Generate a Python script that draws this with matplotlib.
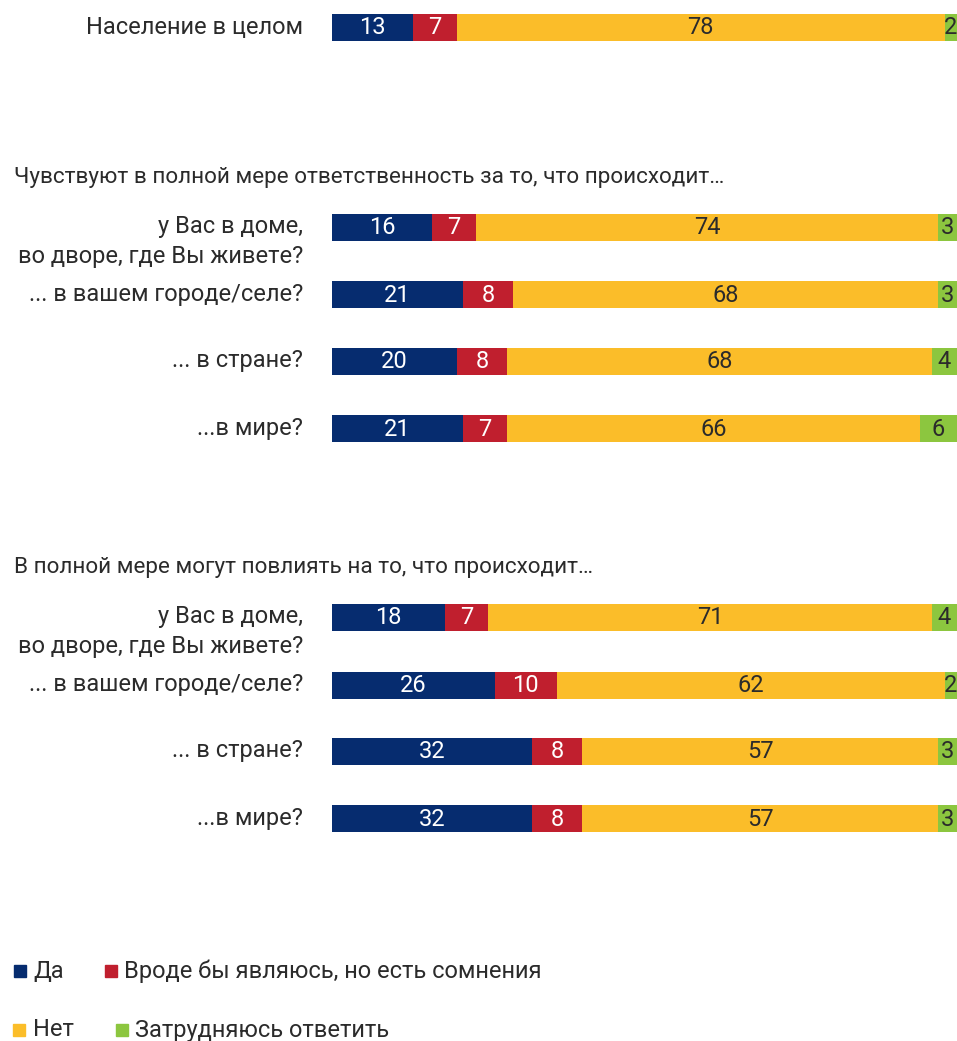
import numpy as np
import matplotlib
matplotlib.use('Agg')
import matplotlib.pyplot as plt

# data
categories = ['Население в целом',
              'у Вас в доме,\nво дворе, где Вы живете?', '... в вашем городе/селе?',
              '... в стране?', '...в мире?',
              'у Вас в доме,\nво дворе, где Вы живете?', '... в вашем городе/селе?',
              '... в стране?', '...в мире?']
da = [13, 16, 21, 20, 21, 18, 26, 32, 32]
vrode = [7, 7, 8, 8, 7, 7, 10, 8, 8]
net = [78, 74, 68, 68, 66, 71, 62, 57, 57]
zatr = [2, 3, 3, 4, 6, 4, 2, 3, 3]
series_names = ['Да', 'Вроде бы являюсь, но есть сомнения', 'Нет', 'Затрудняюсь ответить']
headers = ['Чувствуют в полной мере ответственность за то, что происходит…',
           'В полной мере могут повлиять на то, что происходит…']

colors = ['#062c6f', '#c01f2e', '#fbbd29', '#8cc63f']
text_colors = ['white', 'white', '#2b2b2b', '#2b2b2b']

W, H = 957, 1041
plt.rcParams['font.family'] = ['Roboto', 'DejaVu Sans']
fig = plt.figure(figsize=(W / 100, H / 100), dpi=100)
ax = fig.add_axes([332 / W, 0, 625 / W, 1])
ax.set_xlim(0, 100)
ax.set_ylim(H, 0)
ax.axis('off')

row_y = [27, 227, 294, 361, 428, 617, 685, 751, 818]
bar_h = 27
fs = 17

values = np.array([da, vrode, net, zatr])
for i, y in enumerate(row_y):
    left = 0
    for k in range(4):
        v = values[k][i]
        ax.barh(y, v, left=left, height=bar_h, color=colors[k], linewidth=0)
        ax.text(left + v / 2, y + 1, str(v), ha='center', va='center',
                color=text_colors[k], fontsize=fs)
        left += v
    lines = categories[i].split('\n')
    for j, line in enumerate(lines):
        fig.text(303 / W, 1 - (y + 29 * j) / H, line, ha='right', va='center',
                 fontsize=fs, color='#2b2b2b')

for hy, h in zip([178, 568], headers):
    fig.text(14 / W, 1 - hy / H, h, ha='left', va='center', fontsize=16.2, color='#2b2b2b')

# legend: square x, text x, row centre y (pixels)
leg_pos = [(14, 33, 971), (105, 124, 971), (13, 33, 1030), (116, 135, 1030)]
for k, (sx, tx, ly) in enumerate(leg_pos):
    fig.patches.append(plt.Rectangle((sx / W, 1 - (ly + 6) / H), 12 / W, 12 / H,
                                     transform=fig.transFigure, color=colors[k]))
    fig.text(tx / W, 1 - ly / H, series_names[k], ha='left', va='center',
             fontsize=fs, color='#2b2b2b')

fig.savefig('out.png', dpi=100)
